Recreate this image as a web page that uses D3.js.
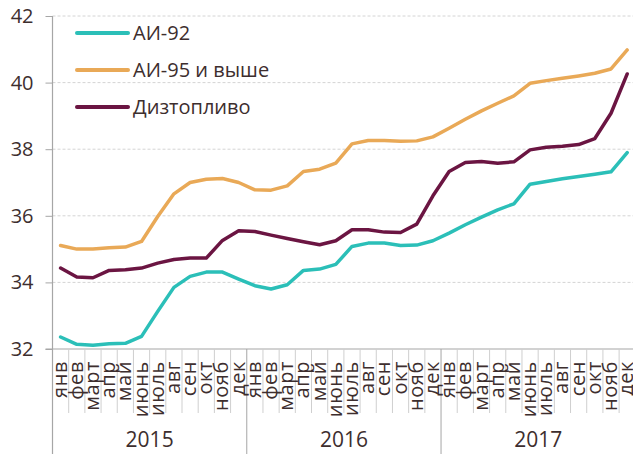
<!DOCTYPE html>
<html>
<head>
<meta charset="utf-8">
<script src="https://cdn.jsdelivr.net/npm/d3@7"></script>
<style>
  html, body { margin: 0; padding: 0; background: #fff; }
  svg { display: block; font-family: "Open Sans", "Noto Sans", sans-serif; }
</style>
</head>
<body>
<svg id="chart" width="633" height="454"></svg>
<script>
const years = ["2015", "2016", "2017"];
const months = ["янв", "фев", "март", "апр", "май", "июнь", "июль", "авг", "сен", "окт", "нояб", "дек"];
const yTicks = [32, 34, 36, 38, 40, 42];
const seriesNames = ["АИ-92", "АИ-95 и выше", "Дизтопливо"];

const ai92 = [32.36, 32.14, 32.11, 32.16, 32.17, 32.38, 33.13, 33.85, 34.18, 34.31, 34.31, 34.1,
              33.9, 33.8, 33.93, 34.36, 34.4, 34.54, 35.08, 35.18, 35.18, 35.11, 35.12, 35.25,
              35.48, 35.73, 35.96, 36.18, 36.36, 36.95, 37.03, 37.11, 37.18, 37.25, 37.32, 37.9];
const ai95 = [35.11, 35.0, 35.0, 35.04, 35.06, 35.23, 35.98, 36.66, 37.0, 37.1, 37.12, 37.0,
              36.78, 36.77, 36.9, 37.33, 37.4, 37.58, 38.16, 38.26, 38.26, 38.24, 38.25, 38.37,
              38.63, 38.9, 39.15, 39.38, 39.6, 39.98, 40.06, 40.13, 40.2, 40.28, 40.41, 40.98];
const diesel = [34.43, 34.16, 34.14, 34.36, 34.38, 34.43, 34.58, 34.69, 34.73, 34.73, 35.26, 35.55,
                35.53, 35.42, 35.32, 35.22, 35.13, 35.25, 35.58, 35.58, 35.51, 35.5, 35.75, 36.6,
                37.33, 37.6, 37.63, 37.58, 37.62, 37.98, 38.06, 38.09, 38.14, 38.32, 39.08, 40.26];

const colors = ["#2bbfb8", "#e9a957", "#6b1542"];
const textColor = "#3d2e2e";
const axisColor = "#a6a6a6";

const svg = d3.select("#chart");
const x0 = 52.5, x1 = 635.3, yTop = 16, yBot = 349;

const periods = [];
years.forEach(y => months.forEach(m => periods.push(y + "-" + m)));

const x = d3.scaleBand().domain(periods).range([x0, x1]).paddingInner(0).paddingOuter(0);
const y = d3.scaleLinear().domain([32, 42]).range([yBot, yTop]);

// gridlines
svg.append("g").selectAll("line").data(yTicks.filter(t => t !== 32)).join("line")
  .attr("x1", x0).attr("x2", 633).attr("y1", d => y(d)).attr("y2", d => y(d))
  .attr("stroke", "#d4d4d4").attr("stroke-width", 1).attr("stroke-dasharray", "3,2");

// y axis
const yAxis = d3.axisLeft(y).tickValues(yTicks).tickSize(7).tickPadding(12).tickFormat(d3.format("d"));
const gy = svg.append("g").attr("transform", `translate(${x0},0)`).call(yAxis);
gy.select(".domain").remove();
gy.selectAll(".tick line").attr("stroke", axisColor);
gy.selectAll(".tick text").attr("fill", textColor).attr("font-size", 20)
  .attr("font-family", "'Open Sans', sans-serif");
svg.append("line").attr("x1", x0).attr("x2", x0).attr("y1", yTop).attr("y2", 454)
  .attr("stroke", axisColor).attr("stroke-width", 1.2);

// x axis baseline
svg.append("line").attr("x1", x0 - 7).attr("x2", 633).attr("y1", yBot).attr("y2", yBot)
  .attr("stroke", axisColor).attr("stroke-width", 1.2);

// month separators
svg.append("g").selectAll("line").data(periods.slice(1)).join("line")
  .attr("x1", d => x(d)).attr("x2", d => x(d))
  .attr("y1", yBot).attr("y2", d => d.endsWith("-янв") ? 454 : 413)
  .attr("stroke", d => d.endsWith("-янв") ? axisColor : "#cfcfcf").attr("stroke-width", 1);

// month labels
svg.append("g").selectAll("text").data(periods).join("text")
  .attr("transform", d => `translate(${x(d) + x.bandwidth() / 2 + 6},361) rotate(-90)`)
  .attr("text-anchor", "end").attr("fill", textColor).attr("font-size", 20)
  .attr("letter-spacing", "0.6px")
  .text(d => d.split("-")[1]);

// year labels
svg.append("g").selectAll("text").data(years).join("text")
  .attr("x", yr => (x(yr + "-янв") + x(yr + "-дек") + x.bandwidth()) / 2)
  .attr("y", 447).attr("text-anchor", "middle").attr("fill", textColor).attr("font-size", 21)
  .text(d => d);

// lines
const allSeries = [ai92, ai95, diesel];
const line = d3.line().x((d, i) => x(periods[i]) + x.bandwidth() / 2).y(d => y(d));
svg.append("g").selectAll("path").data(allSeries).join("path")
  .attr("d", d => line(d)).attr("fill", "none")
  .attr("stroke", (d, i) => colors[i]).attr("stroke-width", 3.5)
  .attr("stroke-linejoin", "round").attr("stroke-linecap", "round");

// legend
const lg = svg.append("g").selectAll("g").data(seriesNames).join("g")
  .attr("transform", (d, i) => `translate(0,${33 + i * 37})`);
lg.append("line").attr("x1", 77).attr("x2", 128).attr("y1", 0).attr("y2", 0)
  .attr("stroke", (d, i) => colors[i]).attr("stroke-width", 4).attr("stroke-linecap", "round");
lg.append("text").attr("x", 133).attr("y", 0).attr("dy", "0.35em")
  .attr("fill", textColor).attr("font-size", 20).text(d => d);
</script>
</body>
</html>
